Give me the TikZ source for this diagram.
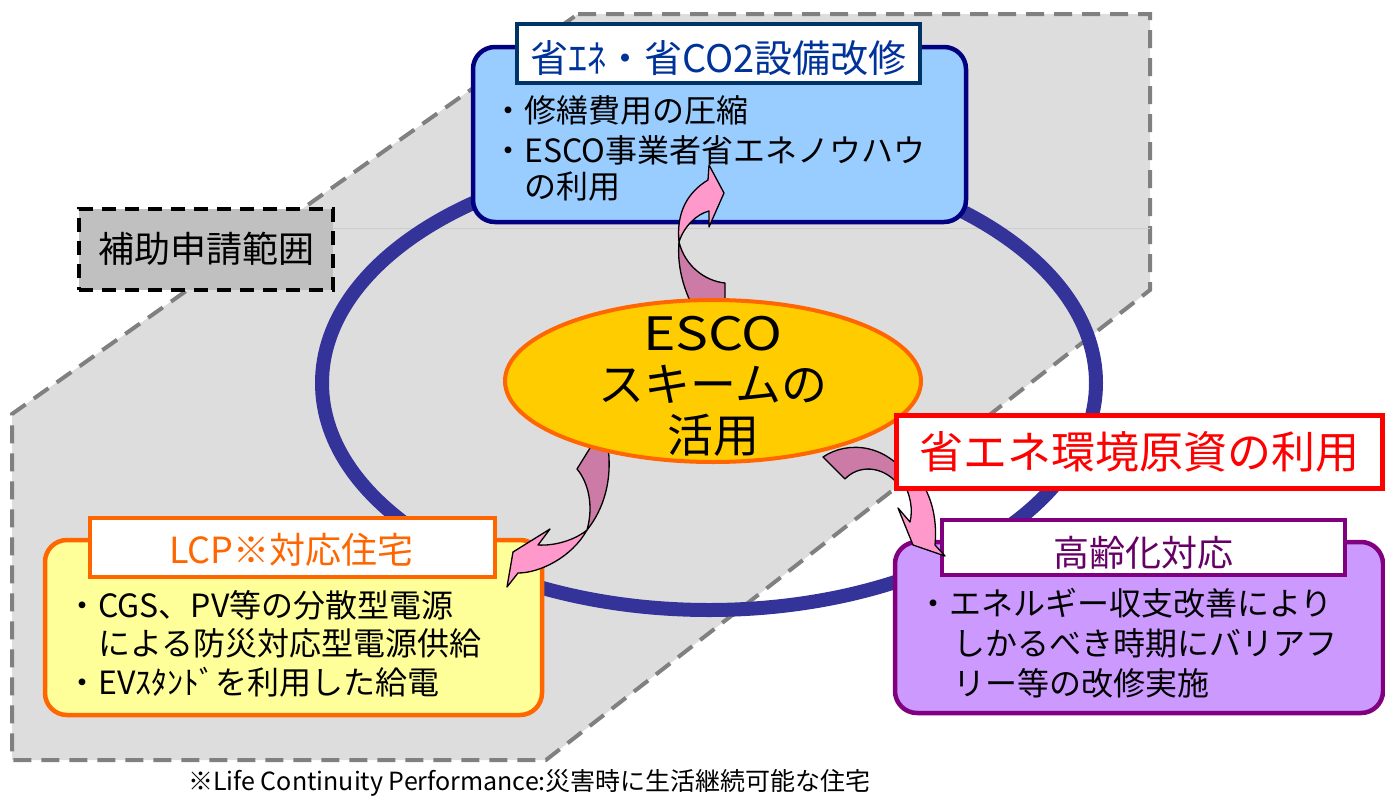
\documentclass[tikz,border=0pt]{standalone}
\usepackage{fontspec}
\setmainfont{Noto Sans CJK JP}
\usetikzlibrary{shapes.geometric}
\definecolor{zonefill}{HTML}{DDDDDD}
\definecolor{zoneline}{HTML}{808080}
\definecolor{ringblue}{HTML}{333399}
\definecolor{bluefill}{HTML}{99CCFF}
\definecolor{blueline}{HTML}{000080}
\definecolor{bluetitleline}{HTML}{003366}
\definecolor{bluetext}{HTML}{003399}
\definecolor{yelfill}{HTML}{FFFF99}
\definecolor{lcporange}{HTML}{FF6600}
\definecolor{purfill}{HTML}{CC99FF}
\definecolor{purline}{HTML}{800080}
\definecolor{purtext}{HTML}{660066}
\definecolor{escofill}{HTML}{FFCC00}
\definecolor{pinkA}{HTML}{FF99CC}
\definecolor{pinkB}{HTML}{CC7AA6}
\definecolor{hojofill}{HTML}{C0C0C0}
\definecolor{redline}{HTML}{FF0000}
\tikzset{
  bodybox/.style={rectangle, rounded corners=22pt, line width=4.5pt, inner sep=0pt},
  titlebox/.style={rectangle, fill=white, line width=4.5pt, inner sep=0pt},
  bodytxt/.style={anchor=base west, inner sep=0pt, font=\fontsize{32pt}{38pt}\selectfont},
  titletxt/.style={inner sep=0pt, font=\fontsize{36pt}{40pt}\selectfont},
  arrowA/.style={fill=pinkA, draw=black, line width=1.3pt, line join=round},
  arrowB/.style={fill=pinkB, draw=black, line width=1.3pt, line join=round},
}
\begin{document}
\begin{tikzpicture}[x=1pt,y=-1pt]
\useasboundingbox (0,0) rectangle (1385,796);
% grey zone
\coordinate (z1) at (578,14);
\coordinate (z2) at (1150,14);
\coordinate (z3) at (1150,290);
\coordinate (z4) at (546,760);
\coordinate (z5) at (12,760);
\coordinate (z6) at (12,414);
\draw[fill=zonefill, draw=zoneline, line width=4pt, dash pattern=on 18pt off 10pt]
  (z1) -- (z2) -- (z3) -- (z4) -- (z5) -- (z6) -- cycle;
\coordinate (f1) at (333,228);
\coordinate (f2) at (1150,228);
\draw[black!20, line width=1pt] (f1) -- (f2);
% ring
\node[draw=ringblue, line width=14pt, ellipse, inner sep=0pt,
      minimum width=774pt, minimum height=454pt] (ring) at (709,383) {};
% hojo box
\node[draw=black, fill=hojofill, line width=4pt, dash pattern=on 14pt off 9pt,
      minimum width=254pt, minimum height=81pt, inner sep=0pt,
      font=\fontsize{36pt}{40pt}\selectfont] (hojo) at (206,249) {補助申請範囲};
% blue group
\node[bodybox, fill=bluefill, draw=blueline, minimum width=493pt, minimum height=175pt] (bluebox) at (719.5,134.5) {};
\node[titlebox, draw=bluetitleline, minimum width=403pt, minimum height=59pt] (bluetitle) at (718.5,53.5) {};
\node[titletxt, text=bluetext, font=\fontsize{38pt}{42pt}\selectfont] (bluetitletxt) at (718.5,58) {省ｴﾈ・省CO2設備改修};
\node[bodytxt] (bl1) at (492,122) {・修繕費用の圧縮};
\node[bodytxt] (bl2) at (492,162) {・ESCO事業者省エネノウハウ};
\node[bodytxt] (bl3) at (524,198) {の利用};
% yellow group
\node[bodybox, fill=yelfill, draw=lcporange, minimum width=497pt, minimum height=175pt] (lcpbox) at (293.5,627.5) {};
\node[titlebox, draw=lcporange, minimum width=405pt, minimum height=59pt] (lcptitle) at (292.5,547.5) {};
\node[titletxt, text=lcporange] (lcptitletxt) at (291.5,550) {LCP※対応住宅};
\node[bodytxt] (yl1) at (66,617) {・CGS、PV等の分散型電源};
\node[bodytxt] (yl2) at (98,655) {による防災対応型電源供給};
\node[bodytxt] (yl3) at (66,694) {・EVｽﾀﾝﾄﾞを利用した給電};
% purple group
\node[bodybox, fill=purfill, draw=purline, minimum width=488pt, minimum height=171pt] (purbox) at (1139,627.5) {};
\node[titlebox, draw=purline, minimum width=403pt, minimum height=55pt] (purtitle) at (1143.5,547.5) {};
\node[titletxt, text=purtext] (purtitletxt) at (1143,553) {高齢化対応};
\node[bodytxt] (pl1) at (917,615) {・エネルギー収支改善により};
\node[bodytxt] (pl2) at (953,655) {しかるべき時期にバリアフ};
\node[bodytxt] (pl3) at (953,695) {リー等の改修実施};
% arrows
\draw[arrowB] (679,242) .. controls (677,265) and (683,287) .. (692,305) -- (725,305) -- (725,283)
  .. controls (705,281) and (685,266) .. (679,242) -- cycle;
\draw[arrowA] (679,242) .. controls (676,212) and (688,192) .. (708,180) -- (709,165) -- (724,193)
  -- (709,227) -- (709,211) .. controls (697,214) and (684,226) .. (679,242) -- cycle;
\draw[arrowB] (595,440) -- (577,469) .. controls (588,482) and (594,505) .. (587,530)
  .. controls (603,510) and (614,480) .. (607,440) -- cycle;
\draw[arrowA] (587,530) .. controls (575,540) and (555,546) .. (538,545) -- (550,529) -- (513,552)
  -- (507,587) -- (518,573) .. controls (540,573) and (572,557) .. (587,530) -- cycle;
\draw[arrowB] (823,457) .. controls (848,440) and (888,444) .. (910,480) -- (898,484)
  .. controls (882,465) and (858,465) .. (845,479) -- cycle;
\draw[arrowA] (902,480) .. controls (911,495) and (913,510) .. (910,522) -- (898,508) -- (913,545)
  -- (945,556) -- (935,545) .. controls (937,525) and (934,500) .. (920,480) -- cycle;
% ESCO ellipse
\node[ellipse, fill=escofill, draw=lcporange, line width=4pt, inner sep=0pt,
      minimum width=416pt, minimum height=162pt] (esco) at (713,381) {};
\node[inner sep=0pt, align=center, font=\fontsize{46pt}{51pt}\selectfont] (escotxt) at (713,386)
  {\scalebox{1.2}[1]{ESCO}\\スキームの\\活用};
% red box
\node[rectangle, fill=white, draw=redline, line width=5pt, inner sep=0pt,
      minimum width=486pt, minimum height=73pt, text=redline,
      font=\fontsize{44pt}{48pt}\selectfont] (redbox) at (1139,451.5) {省エネ環境原資の利用};
% footnote
\node[anchor=west, inner sep=0pt, font=\fontsize{25pt}{29pt}\selectfont] (note) at (188,783)
  {※Life Continuity Performance:災害時に生活継続可能な住宅};
\end{tikzpicture}
\end{document}
